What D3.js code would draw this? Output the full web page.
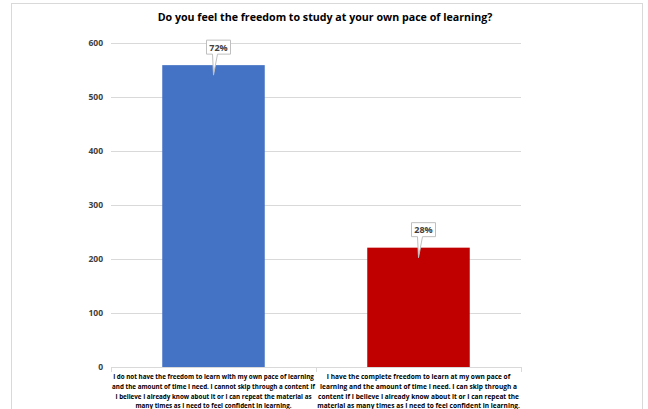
<!DOCTYPE html>
<html>
<head>
<meta charset="utf-8">
<script src="https://cdn.jsdelivr.net/npm/d3@7"></script>
<style>
  body { margin: 0; background: #fff; }
  svg { display: block; }
</style>
</head>
<body>
<div id="chart-area"></div>
<script>
// data
var categories = [
  ["I do not have the freedom to learn with my own pace of learning",
   "and the amount of time I need. I cannot skip through a content If",
   "I believe I already know about it or I can repeat the material as",
   "many times as I need to feel confident in learning."],
  ["I have the complete freedom to learn at my own pace of",
   "learning and the amount of time I need. I can skip through a",
   "content If I believe I already know about it or I can repeat the",
   "material as many times as I need to feel confident in learning."]
];
var values = [559, 221];
var percentLabels = ["72%", "28%"];
var barColors = ["#4472c4", "#c00000"];
var yTicks = [0, 100, 200, 300, 400, 500, 600];
var title = "Do you feel the freedom to study at your own pace of learning?";

var W = 648, H = 409;
var font = "'Open Sans', 'Noto Sans', sans-serif";
var narrow = "'Liberation Sans Narrow', 'Open Sans', sans-serif";

var svg = d3.select("#chart-area")
  .append("svg")
    .attr("width", W)
    .attr("height", H);

// chart border
svg.append("rect")
  .attr("x", 11.5).attr("y", 3.5)
  .attr("width", 631).attr("height", 430)
  .attr("fill", "#fff")
  .attr("stroke", "#d9d9d9");

var titleText = svg.append("text")
  .attr("x", 325).attr("y", 21)
  .attr("text-anchor", "middle")
  .attr("font-family", font)
  .attr("font-weight", "bold")
  .attr("font-size", "13px")
  .attr("fill", "#000")
  .text(title);
// fit title to its width in the picture
var tw = titleText.node().getComputedTextLength();
titleText.attr("font-size", (13 * 335 / tw) + "px");

var x = d3.scaleBand()
  .domain(d3.range(categories.length))
  .range([111, 521])
  .paddingInner(0.5)
  .paddingOuter(0.25);

var band = d3.scaleBand().domain(d3.range(categories.length)).range([111, 521]);

var y = d3.scaleLinear().domain([0, 600]).range([367, 43]);

// gridlines
svg.append("g")
  .selectAll("line")
  .data(yTicks.slice(1))
  .enter().append("line")
    .attr("x1", 111).attr("x2", 521)
    .attr("y1", function(d) { return Math.round(y(d)) + 0.5; })
    .attr("y2", function(d) { return Math.round(y(d)) + 0.5; })
    .attr("stroke", "#d9d9d9")
    .attr("stroke-width", 1);

var leftAxis = d3.axisLeft(y).tickValues(yTicks).tickSize(0).tickPadding(8);
var gy = svg.append("g")
  .attr("transform", "translate(111,0)")
  .call(leftAxis);
gy.select(".domain").remove();
gy.selectAll("text")
  .attr("font-family", font)
  .attr("font-weight", "bold")
  .attr("font-size", "8.5px")
  .attr("fill", "#404040");

// bars
svg.append("g")
  .selectAll("rect")
  .data(values)
  .enter().append("rect")
    .attr("x", function(d, i) { return x(i); })
    .attr("y", function(d) { return y(d); })
    .attr("width", x.bandwidth())
    .attr("height", function(d) { return y(0) - y(d); })
    .attr("fill", function(d, i) { return barColors[i]; });

// category axis
svg.append("line")
  .attr("x1", 111).attr("x2", 521)
  .attr("y1", 367.5).attr("y2", 367.5)
  .attr("stroke", "#d9d9d9");
svg.append("g")
  .selectAll("line")
  .data([111, 316, 521])
  .enter().append("line")
    .attr("x1", function(d) { return d + 0.5; })
    .attr("x2", function(d) { return d + 0.5; })
    .attr("y1", 367).attr("y2", 372)
    .attr("stroke", "#d9d9d9");

// category labels
categories.forEach(function(lines, i) {
  var g = svg.append("g");
  var cx = band(i) + band.bandwidth() / 2;
  var t = g.selectAll("text")
    .data(lines)
    .enter().append("text")
      .attr("x", cx)
      .attr("y", function(d, j) { return 379 + j * 9.8; })
      .attr("text-anchor", "middle")
      .attr("font-family", narrow)
      .attr("font-weight", "bold")
      .attr("font-size", "8px")
      .attr("fill", "#000")
      .text(function(d) { return d; });
  var maxW = d3.max(t.nodes(), function(n) { return n.getComputedTextLength(); });
  t.attr("font-size", Math.min(9, 8 * 203 / maxW) + "px");
});

// data callouts
var callouts = svg.append("g")
  .selectAll("g")
  .data(values)
  .enter().append("g");

callouts.each(function(d, i) {
  var g = d3.select(this);
  var cx = x(i) + x.bandwidth() / 2;
  var tipY = y(d) + 10;
  var bx = cx + 5, by = y(d) - 18;
  var bw = 24, bh = 14;
  g.append("path")
    .attr("d", "M" + (bx - bw / 2) + "," + (by - bh / 2) +
               "H" + (bx + bw / 2) + "V" + (by + bh / 2) +
               "H" + (bx - 1) + "L" + cx + "," + tipY +
               "L" + (bx - 6) + "," + (by + bh / 2) +
               "H" + (bx - bw / 2) + "Z")
    .attr("fill", "#fff")
    .attr("stroke", "#bfbfbf")
    .attr("stroke-width", 1);
  g.append("text")
    .attr("x", bx).attr("y", by + 3.5)
    .attr("text-anchor", "middle")
    .attr("font-family", font)
    .attr("font-weight", "bold")
    .attr("font-size", "9px")
    .attr("fill", "#404040")
    .text(percentLabels[i]);
});
</script>
</body>
</html>
